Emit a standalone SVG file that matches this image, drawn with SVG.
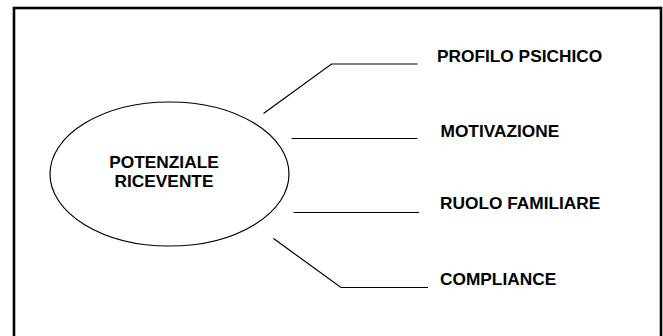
<svg xmlns="http://www.w3.org/2000/svg" width="663" height="336" viewBox="0 0 663 336">
<style>
.t{font-family:"Liberation Sans",Arial,sans-serif;font-weight:bold;font-size:17.3px;fill:#000}
.c{fill:none;stroke:#000;stroke-width:1.2}
</style>
<rect x="0" y="0" width="663" height="336" fill="#fff"/>
<rect x="14" y="8" width="647" height="340" fill="none" stroke="#000" stroke-width="2.6"/>
<g id="node-center">
<ellipse cx="169.5" cy="174" rx="119.5" ry="72" fill="#fff" stroke="#000" stroke-width="1.2"/>
<text class="t" x="164" y="168" text-anchor="middle">POTENZIALE</text>
<text class="t" x="164" y="187" text-anchor="middle">RICEVENTE</text>
</g>
<g id="connectors">
<polyline class="c" points="263.5,113.5 331.5,64 417.5,64"/>
<line class="c" x1="291.5" y1="138.5" x2="417.5" y2="138.5"/>
<line class="c" x1="293.5" y1="212.5" x2="419" y2="212.5"/>
<polyline class="c" points="273.5,238.5 341,287.5 428,287.5"/>
</g>
<g id="node-profilo"><text class="t" x="437" y="62">PROFILO PSICHICO</text></g>
<g id="node-motivazione"><text class="t" x="440.5" y="136.5">MOTIVAZIONE</text></g>
<g id="node-ruolo"><text class="t" x="440" y="208.5">RUOLO FAMILIARE</text></g>
<g id="node-compliance"><text class="t" x="440" y="285">COMPLIANCE</text></g>
</svg>
